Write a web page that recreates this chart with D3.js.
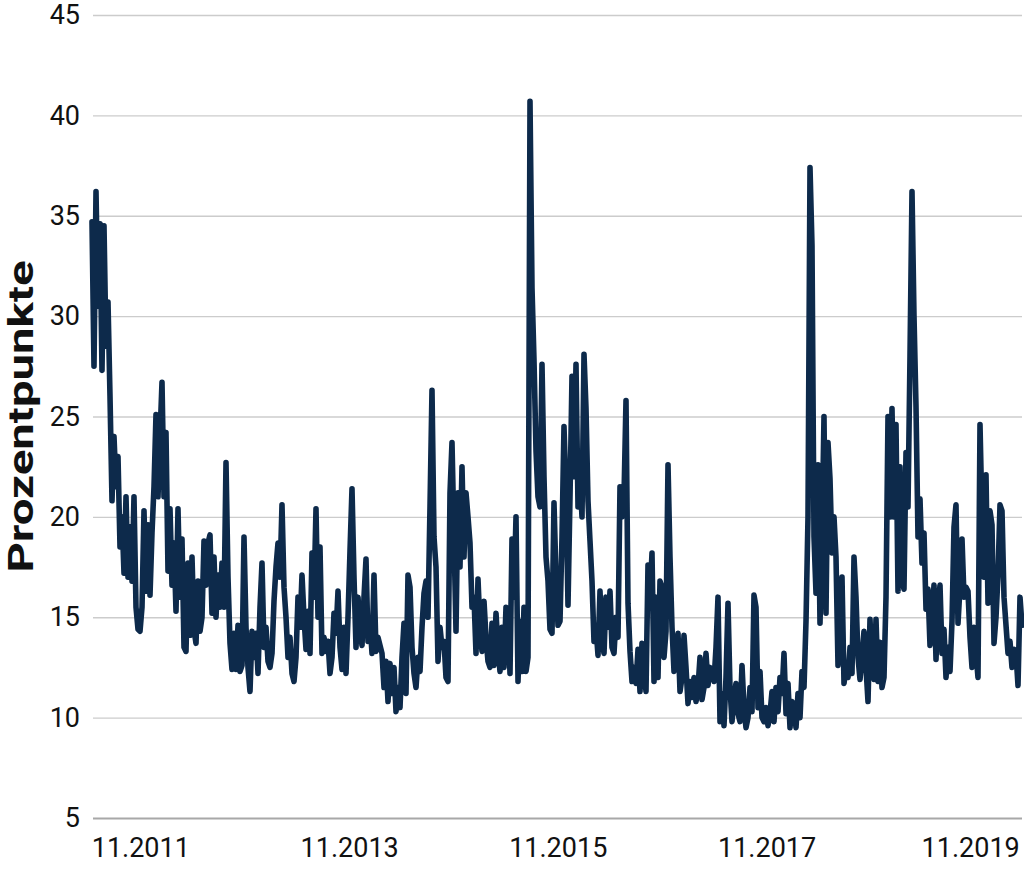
<!DOCTYPE html>
<html>
<head>
<meta charset="utf-8">
<script src="https://cdn.jsdelivr.net/npm/d3@7"></script>
<style>
  body { margin: 0; background: #fff; }
  text { font-family: Roboto, "Noto Sans", sans-serif; }
</style>
</head>
<body>
<script>
// weekly series (Prozentpunkte)
var startDate = new Date(2011, 4, 16);

var vola = [
    // 2011 - 2012
    34.7, 27.5, 36.2, 30.5, 34.6, 27.3, 34.5, 28.5, 30.7, 26,
    20.8, 24, 21.5, 23, 18.5, 20, 17.2, 21, 17, 19.5,
    16.8, 21, 15.5, 14.4, 14.3, 15.5, 20.3, 16.3, 19.6, 16.1,
    19.2, 21.5, 25.1, 21, 24, 26.7, 21, 24.2, 17.3, 20.4,
    16.6, 18.7, 15.3, 20.4, 16, 18.9, 13.5, 13.3, 17.7, 14.1,
    18, 14.4, 13.7, 16.8, 14.3, 15, 18.8, 16.6, 18.7, 19.1,
    15.2, 18, 15, 17.1, 15.5, 17.7, 15.5, 22.7, 17, 13.7,
    12.4, 14.2, 12.4, 14.6, 12.3, 12.6, 19,
    // 2013
    14.5, 12.5, 11.3, 14.3, 13, 14.2, 12.2, 15.5, 17.7, 13.5,
    14.5, 12.8, 12.5, 13.2, 15.8, 17.5, 18.7, 17, 20.6, 16.5,
    15, 13, 14, 12.2, 11.8, 13, 16, 14.5, 17.1, 15,
    13.4, 15.3, 13.2, 18.2, 16, 20.4, 15, 18.5, 13.2, 14,
    13.3, 13.8, 12.2, 13, 15.2, 14.2, 16.3, 13.5, 12.4, 14.5,
    12.2, 15, 18.3, 21.4, 17, 13.5, 16, 14.5, 13.6, 16,
    17.9, 13.8, 14.8, 13.2, 17.1, 13.3, 14, 13.6, 13.2, 11.5,
    12.8, 10.8, 12.7, 11.2, 12.5, 10.3, 11.5,
    // 2014 - 2015
    10.5, 13, 14.7, 11.2, 17.1, 16.5, 13.5, 12.2, 11.5, 13,
    12.3, 14.5, 16.2, 16.8, 15, 20.5, 26.3, 19, 17.5, 12.8,
    14.5, 13.5, 13.8, 12, 11.8, 21.2, 23.7, 19, 14.3, 21.2,
    17.5, 22.5, 18, 21.2, 20, 18.7, 15.5, 16, 13.2, 16.9,
    14.5, 13.3, 15.8, 14, 12.8, 12.5, 14.7, 12.6, 15.2, 13.5,
    12.3, 14.5, 12.5, 15.5, 15.2, 12.2, 18.9, 16, 20, 11.8,
    14.8, 12.3, 15.5, 12.3, 13, 40.7,
    // 2015 - 2016
    31.4, 27.8, 23.3, 21, 20.5, 27.6, 22, 18, 16.8, 14.4,
    14.2, 20.7, 17, 14.6, 14.8, 19, 24.5, 21.3, 15.6, 21,
    27, 22, 27.6, 20.5, 22, 20, 28.1, 25.4, 20.8, 18.8,
    16.8, 13.8, 14.5, 13.1, 16.3, 14, 13.2, 16, 14.5, 16.3,
    13.5, 13.2, 15, 14, 21.5, 20, 21, 25.8,
    // 2016 - 2017
    15.7, 13.3, 11.8, 12.5, 11.7, 13.4, 11.3, 13.7, 12.5, 11.3,
    17.6, 16, 18.2, 11.8, 16, 12, 16.8, 16.5, 13, 14.3,
    22.6, 18, 14.5, 12.3, 13, 14.2, 11.3, 12, 14.1, 12.5,
    10.7, 11.8, 11, 12, 10.8, 11.5, 13, 10.9, 11.5, 13.2,
    11.6, 12.5, 12.3, 11.8, 13.5, 16, 9.8, 11.2, 9.6, 12,
    15.7, 11.5, 9.8, 11, 11.7, 10.2, 9.8, 12.6, 10.5, 9.5,
    10, 11.5, 10.3, 16.1, 15.5, 10.5, 12.3, 10, 9.8, 10.5,
    9.6, 10.2, 11.3, 9.8, 11.5, 10.3, 12, 11.2, 13.2, 10.2,
    11.7, 9.5, 10.8,
    // 2018
    10.6, 9.5, 11.2, 10, 12.3, 11.5, 14.8, 20, 37.4, 33.5,
    19, 16.2, 22.6, 14.7, 19, 25, 15.2, 23.7, 21.9, 18.2,
    20, 18, 12.6, 14.5, 17, 11.7, 12.5, 12, 13.5, 12.2,
    18, 16, 13, 11.9, 13, 14.3, 12.5, 10.8, 14.9, 12.5,
    11.9, 14.9, 11.8, 13.75, 11.5, 12, 16, 25, 20, 25.4,
    20, 24.6, 16.3,
    // 2019 - 2020
    22.5, 16.9, 16.4, 23.2, 20.5, 28, 36.2, 30, 25.5, 19,
    20.9, 17.7, 19.2, 15.4, 16.4, 13.6, 15, 16.6, 12.9, 15.5,
    16.6, 13.2, 14.4, 12, 13.5, 12.3, 14.8, 19.5, 20.6, 14.7,
    16.5, 18.9, 16, 16.5, 16.3, 14, 12.5, 14.5, 13.2, 12,
    24.6, 20, 17, 22.1, 15.7, 20.3, 19.6, 13.7, 15, 17.1,
    20.6, 20.3, 16, 14.6, 13.2, 13.8, 12.5, 13.4, 13.2, 11.6,
    16, 14.6
];

var yTicks = [5, 10, 15, 20, 25, 30, 35, 40, 45];
var xTickDates = [new Date(2011, 10, 1), new Date(2013, 10, 1), new Date(2015, 10, 1),
                  new Date(2017, 10, 1), new Date(2019, 10, 1)];
var yTitle = "Prozentpunkte";

var data = vola.map(function(v, i) {
    return {date: d3.timeDay.offset(startDate, 7 * i), value: v};
});

// Define Margin
var margin = {left: 92, right: 2, top: 15, bottom: 51},
    width = 1024 - margin.left - margin.right,
    height = 869 - margin.top - margin.bottom;

var svg = d3.select("body")
    .append("svg")
    .attr("width", width + margin.left + margin.right)
    .attr("height", height + margin.top + margin.bottom)
    .style("background", "#fff");

var g = svg.append("g")
    .attr("transform", "translate(" + margin.left + "," + margin.top + ")");

var x = d3.scaleTime()
    .domain(d3.extent(data, function(d) { return d.date; }))
    .range([0, width]);

var y = d3.scaleLinear()
    .domain([5, 45])
    .range([height, 0]);

// gridlines + y labels
var yAxis = g.append("g")
    .call(d3.axisLeft(y)
        .tickValues(yTicks)
        .tickSize(-width)
        .tickPadding(12));
yAxis.select(".domain").remove();
yAxis.selectAll(".tick line")
    .attr("x1", 1)
    .attr("stroke", "#cccccc")
    .attr("stroke-width", 1.3);
yAxis.selectAll(".tick line")
    .filter(function(d) { return d === 5; })
    .attr("stroke", "#a8a8a8")
    .attr("stroke-width", 2);
yAxis.selectAll(".tick text")
    .attr("font-family", "Roboto, sans-serif")
    .attr("font-size", 27)
    .attr("fill", "#111");

// x labels
var xAxis = g.append("g")
    .attr("transform", "translate(0," + height + ")")
    .call(d3.axisBottom(x)
        .tickValues(xTickDates)
        .tickFormat(d3.timeFormat("%m.%Y"))
        .tickSize(0)
        .tickPadding(20));
xAxis.select(".domain").remove();
xAxis.selectAll(".tick text")
    .attr("font-family", "Roboto, sans-serif")
    .attr("font-size", 27)
    .attr("fill", "#111");
// last label sits a little inside the right edge
xAxis.selectAll(".tick text")
    .filter(function(d, i) { return i === xTickDates.length - 1; })
    .attr("dx", -5);

// y title
svg.append("text")
    .attr("transform", "translate(33,416.5) rotate(-90)")
    .attr("text-anchor", "middle")
    .attr("font-size", 35)
    .attr("font-weight", "bold")
    .attr("fill", "#111")
    .attr("textLength", 312)
    .attr("lengthAdjust", "spacingAndGlyphs")
    .text(yTitle);

// the series
var line = d3.line()
    .x(function(d) { return x(d.date); })
    .y(function(d) { return y(d.value); });

g.append("path")
    .datum(data)
    .attr("fill", "none")
    .attr("stroke", "#0d2a4b")
    .attr("stroke-width", 5.6)
    .attr("stroke-linejoin", "round")
    .attr("stroke-linecap", "round")
    .attr("d", line);
</script>
</body>
</html>
